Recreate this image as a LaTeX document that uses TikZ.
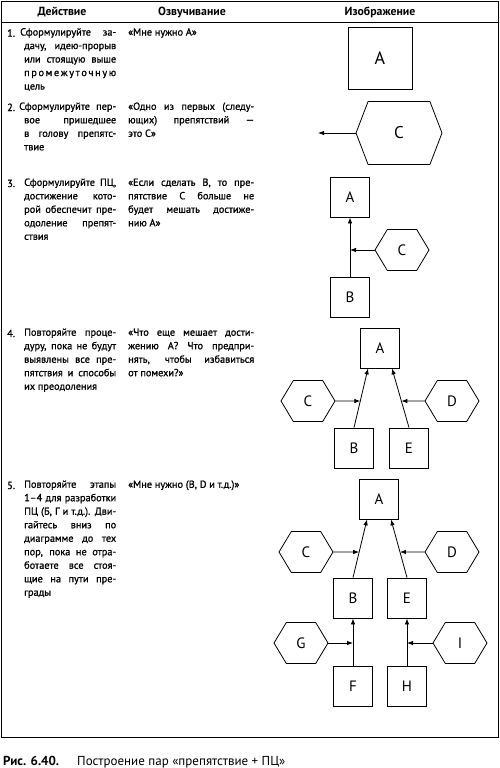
\documentclass[tikz,border=0pt]{standalone}
\usepackage{fontspec}
\setmainfont{PT Sans}
\newfontfamily\bodyfont{PT Sans}[FakeBold=1.0]
\usetikzlibrary{arrows.meta,shapes.symbols}

\tikzstyle{goal} = [draw, line width=0.8pt, minimum width=39pt, minimum height=40pt, inner sep=0pt, font=\fontsize{15}{15}\selectfont]
\tikzstyle{obst} = [draw, line width=0.8pt, signal, signal to=west and east, signal pointer angle=118, minimum width=54pt, minimum height=41pt, inner sep=0pt, font=\fontsize{15}{15}\selectfont]
\tikzstyle{link} = [-{Latex[length=6pt,width=4.5pt]}, line width=0.8pt]
\tikzstyle{num} = [anchor=base west, inner sep=0pt]
\tikzstyle{act} = [text width=92pt, align=justify, anchor=north west, inner sep=0pt]
\tikzstyle{say} = [text width=126pt, align=justify, anchor=north west, inner sep=0pt]
\tikzstyle{head} = [font=\bfseries\fontsize{11.8}{12}\selectfont]

\begin{document}
\begin{tikzpicture}[x=1pt, y=-1pt, font=\bodyfont\fontsize{10.3}{13.5}\selectfont]
\useasboundingbox (0,0) rectangle (500,768);

% frame and header
\draw[line width=0.9pt] (1,1) rectangle (498,737);
\draw[line width=0.9pt] (1,22) -- (498,22);
\node[head] (h1) at (62,12) {Действие};
\node[head] (h2) at (192,12) {Озвучивание};
\node[head] (h3) at (380,12) {Изображение};

% 1
\node[num] (n1) at (7,36.7) {1.};
\node[act] (t1) at (24,28) {\hspace*{-4pt}Сформулируйте за-\linebreak
  дачу, идею-прорыв\linebreak
  или стоящую выше\linebreak
  \hbox to\linewidth{п\hfill р\hfill о\hfill м\hfill е\hfill ж\hfill у\hfill т\hfill о\hfill ч\hfill н\hfill у\hfill ю}\linebreak
  цель};
\node[say] (s1) at (128,28) {«Мне нужно A»};
\node[goal, minimum width=64pt, minimum height=62pt, font=\fontsize{18}{18}\selectfont] (a1) at (380,58) {A};

% 2
\node[num] (n2) at (7,111) {2.};
\node[act] (t2) at (24,102.3) {\hspace*{-5pt}Сформулируйте пер-\linebreak
  вое пришедшее\linebreak
  в голову препятс-\linebreak
  твие};
\node[say] (s2) at (128,102.3) {«Одно из первых (следу-\linebreak
  ющих) препятствий —\linebreak
  это C»};
\node[obst, minimum width=86pt, minimum height=63pt, signal pointer angle=138, font=\fontsize{17}{17}\selectfont] (c2) at (399,133) {C};
\coordinate (c2end) at (318,133);
\draw[link] (c2.west) -- (c2end);

% 3
\node[num] (n3) at (7,187) {3.};
\node[act] (t3) at (24,178.3) {Сформулируйте ПЦ,\linebreak
  достижение кото-\linebreak
  рой обеспечит пре-\linebreak
  одоление препят-\linebreak
  ствия};
\node[say] (s3) at (128,178.3) {«Если сделать B, то пре-\linebreak
  пятствие C больше не\linebreak
  будет мешать достиже-\linebreak
  нию A»};
\node[goal] (a3) at (350,197) {A};
\node[goal] (b3) at (350,297) {B};
\node[obst] (c3) at (402,250) {C};
\draw[link] (b3) -- (a3);
\draw[link] (c3.west) -- (c3.west -| a3.south);

% 4
\node[num] (n4) at (7,337) {4.};
\node[act] (t4) at (24,328.3) {Повторяйте проце-\linebreak
  дуру, пока не будут\linebreak
  выявлены все пре-\linebreak
  пятствия и способы\linebreak
  их преодоления};
\node[say] (s4) at (128,328.3) {«Что еще мешает дости-\linebreak
  жению A? Что предпри-\linebreak
  нять, чтобы избавиться\linebreak
  от помехи?»};
\node[goal] (a4) at (380,348) {A};
\node[obst] (c4) at (308,401) {C};
\node[obst] (d4) at (452,401) {D};
\node[goal] (b4) at (354,448) {B};
\node[goal] (e4) at (409,448) {E};
\coordinate (a4l) at ([xshift=-12pt]a4.south);
\coordinate (a4r) at ([xshift=12pt]a4.south);
\coordinate (m4l) at (intersection of b4.north--a4l and c4.east--d4.west);
\coordinate (m4r) at (intersection of e4.north--a4r and c4.east--d4.west);
\draw[link] (b4.north) -- (a4l);
\draw[link] (e4.north) -- (a4r);
\draw[link] (c4.east) -- (m4l);
\draw[link] (d4.west) -- (m4r);

% 5
\node[num] (n5) at (7,489) {5.};
\node[act] (t5) at (24,480.3) {Повторяйте этапы\linebreak
  1–4 для разработки\linebreak
  ПЦ (Б, Г и т.д.). Дви-\linebreak
  гайтесь вниз по\linebreak
  диаграмме до тех\linebreak
  пор, пока не отра-\linebreak
  ботаете все стоя-\linebreak
  щие на пути пре-\linebreak
  грады};
\node[say] (s5) at (128,480.3) {«Мне нужно (B, D и т.д.)»};
\node[goal] (a5) at (379,499) {A};
\node[obst] (c5) at (306,552) {C};
\node[obst] (d5) at (452,552) {D};
\node[goal] (b5) at (353,598) {B};
\node[goal] (e5) at (407,598) {E};
\node[obst] (g5) at (301,643) {G};
\node[obst] (i5) at (460,643) {I};
\node[goal] (f5) at (353,686) {F};
\node[goal] (h5) at (407,686) {H};
\coordinate (a5l) at ([xshift=-12pt]a5.south);
\coordinate (a5r) at ([xshift=12pt]a5.south);
\coordinate (m5l) at (intersection of b5.north--a5l and c5.east--d5.west);
\coordinate (m5r) at (intersection of e5.north--a5r and c5.east--d5.west);
\draw[link] (b5.north) -- (a5l);
\draw[link] (e5.north) -- (a5r);
\draw[link] (c5.east) -- (m5l);
\draw[link] (d5.west) -- (m5r);
\draw[link] (f5) -- (b5);
\draw[link] (h5) -- (e5);
\draw[link] (g5.east) -- (g5.east -| f5.north);
\draw[link] (i5.west) -- (i5.west -| h5.north);

% caption
\node[anchor=base west, inner sep=0pt, font=\bfseries\fontsize{13}{13}\selectfont] (fig) at (3,765) {Рис. 6.40.};
\node[anchor=base west, inner sep=0pt, font=\fontsize{13}{13}\selectfont] (cap) at (77,765) {Построение пар «препятствие + ПЦ»};
\end{tikzpicture}
\end{document}
